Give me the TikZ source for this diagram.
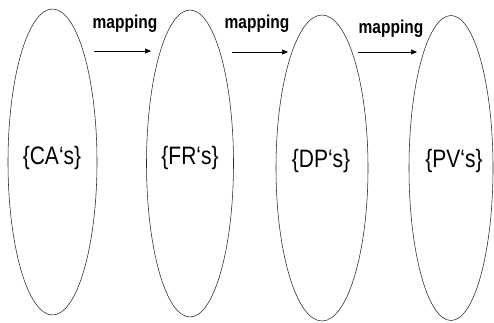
\documentclass[tikz,border=0pt]{standalone}
\usepackage{fontspec}
\setmainfont{Liberation Sans}
\usepackage{graphicx}
\usetikzlibrary{shapes.geometric,arrows.meta}
\begin{document}
\begin{tikzpicture}[x=1pt,y=-1pt,
  setov/.style={draw=black!85,line width=0.55pt,ellipse,inner sep=0pt},
  setlbl/.style={font=\fontsize{21}{24}\selectfont,inner sep=0pt},
  maplbl/.style={font=\fontsize{15.5}{18}\selectfont\bfseries,inner sep=0pt},
  maparrow/.style={line width=0.6pt,-{Triangle[length=6pt,width=5pt]}}]
\useasboundingbox (0,0) rectangle (494,322);
\node[setov,minimum width=89pt,minimum height=306pt] (e1) at (52.5,162) {};
\node[setov,minimum width=87pt,minimum height=307pt] (e2) at (190,163.5) {};
\node[setov,minimum width=92pt,minimum height=306pt] (e3) at (322,168) {};
\node[setov,minimum width=84pt,minimum height=305pt] (e4) at (451,168) {};
\node[setlbl] (t1) at (52,158) {\scalebox{1}[1.2]{\{CA`s\}}};
\node[setlbl] (t2) at (190,158) {\scalebox{1}[1.2]{\{FR`s\}}};
\node[setlbl] (t3) at (321,161) {\scalebox{1}[1.2]{\{DP`s\}}};
\node[setlbl] (t4) at (454,161) {\scalebox{1}[1.2]{\{PV`s\}}};
\node[maplbl] (m1) at (125,24) {\scalebox{1}[1.2]{mapping}};
\node[maplbl] (m2) at (257,24) {\scalebox{1}[1.2]{mapping}};
\node[maplbl] (m3) at (391,29) {\scalebox{1}[1.2]{mapping}};
\coordinate (a1s) at (94,51);
\coordinate (a1e) at (151,51);
\coordinate (a2s) at (232,52);
\coordinate (a2e) at (288,52);
\coordinate (a3s) at (358,52);
\coordinate (a3e) at (417,52);
\draw[maparrow] (a1s) -- (a1e);
\draw[maparrow] (a2s) -- (a2e);
\draw[maparrow] (a3s) -- (a3e);
\end{tikzpicture}
\end{document}
